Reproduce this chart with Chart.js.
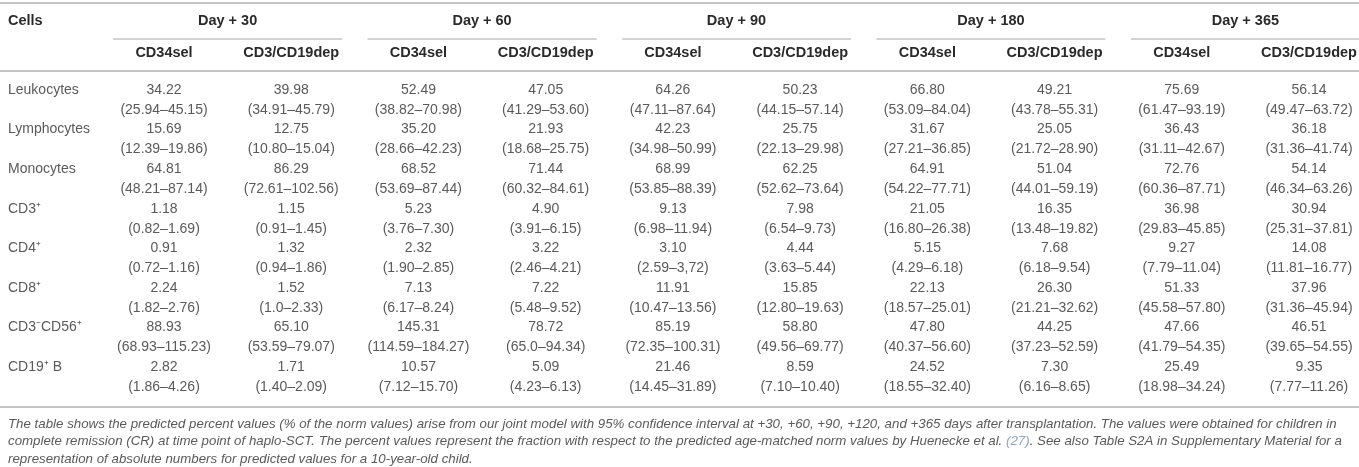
<!DOCTYPE html>
<html>
<head>
<meta charset="utf-8">
<script src="https://cdn.jsdelivr.net/npm/chart.js@4"></script>
<style>
  html, body { margin: 0; padding: 0; background: #fff; }
  #wrap { width: 1359px; height: 467px; }
</style>
</head>
<body>
<div id="wrap"><canvas id="table"></canvas></div>
<script>
// rows (cells) and columns
const cells = ['Leukocytes', 'Lymphocytes', 'Monocytes', 'CD3\u207A', 'CD4\u207A', 'CD8\u207A', 'CD3\u207BCD56\u207A', 'CD19\u207A B']
const days = ['Day + 30', 'Day + 60', 'Day + 90', 'Day + 180', 'Day + 365']
const groups = ['CD34sel', 'CD3/CD19dep']

// predicted values, one array per cell type, columns in order day30 sel/dep, day60 sel/dep ...
const leukocytes = [34.22, 39.98, 52.49, 47.05, 64.26, 50.23, 66.80, 49.21, 75.69, 56.14]
const leukocytesCI = ['25.94–45.15', '34.91–45.79', '38.82–70.98', '41.29–53.60', '47.11–87.64', '44.15–57.14', '53.09–84.04', '43.78–55.31', '61.47–93.19', '49.47–63.72']
const lymphocytes = [15.69, 12.75, 35.20, 21.93, 42.23, 25.75, 31.67, 25.05, 36.43, 36.18]
const lymphocytesCI = ['12.39–19.86', '10.80–15.04', '28.66–42.23', '18.68–25.75', '34.98–50.99', '22.13–29.98', '27.21–36.85', '21.72–28.90', '31.11–42.67', '31.36–41.74']
const monocytes = [64.81, 86.29, 68.52, 71.44, 68.99, 62.25, 64.91, 51.04, 72.76, 54.14]
const monocytesCI = ['48.21–87.14', '72.61–102.56', '53.69–87.44', '60.32–84.61', '53.85–88.39', '52.62–73.64', '54.22–77.71', '44.01–59.19', '60.36–87.71', '46.34–63.26']
const cd3 = [1.18, 1.15, 5.23, 4.90, 9.13, 7.98, 21.05, 16.35, 36.98, 30.94]
const cd3CI = ['0.82–1.69', '0.91–1.45', '3.76–7.30', '3.91–6.15', '6.98–11.94', '6.54–9.73', '16.80–26.38', '13.48–19.82', '29.83–45.85', '25.31–37.81']
const cd4 = [0.91, 1.32, 2.32, 3.22, 3.10, 4.44, 5.15, 7.68, 9.27, 14.08]
const cd4CI = ['0.72–1.16', '0.94–1.86', '1.90–2.85', '2.46–4.21', '2.59–3,72', '3.63–5.44', '4.29–6.18', '6.18–9.54', '7.79–11.04', '11.81–16.77']
const cd8 = [2.24, 1.52, 7.13, 7.22, 11.91, 15.85, 22.13, 26.30, 51.33, 37.96]
const cd8CI = ['1.82–2.76', '1.0–2.33', '6.17–8.24', '5.48–9.52', '10.47–13.56', '12.80–19.63', '18.57–25.01', '21.21–32.62', '45.58–57.80', '31.36–45.94']
const nk = [88.93, 65.10, 145.31, 78.72, 85.19, 58.80, 47.80, 44.25, 47.66, 46.51]
const nkCI = ['68.93–115.23', '53.59–79.07', '114.59–184.27', '65.0–94.34', '72.35–100.31', '49.56–69.77', '40.37–56.60', '37.23–52.59', '41.79–54.35', '39.65–54.55']
const cd19 = [2.82, 1.71, 10.57, 5.09, 21.46, 8.59, 24.52, 7.30, 25.49, 9.35]
const cd19CI = ['1.86–4.26', '1.40–2.09', '7.12–15.70', '4.23–6.13', '14.45–31.89', '7.10–10.40', '18.55–32.40', '6.16–8.65', '18.98–34.24', '7.77–11.26']

const caption = [
    ['The table shows the predicted percent values (% of the norm values) arise from our joint model with 95% confidence interval at +30, +60, +90, +120, and +365 days after transplantation. The values were obtained for children in'],
    ['complete remission (CR) at time point of haplo-SCT. The percent values represent the fraction with respect to the predicted age-matched norm values by Huenecke et al. ', '(27)', '. See also Table S2A in Supplementary Material for a'],
    ['representation of absolute numbers for predicted values for a 10-year-old child.'],
]

const values = [leukocytes, lymphocytes, monocytes, cd3, cd4, cd8, nk, cd19]
const intervals = [leukocytesCI, lymphocytesCI, monocytesCI, cd3CI, cd4CI, cd8CI, nkCI, cd19CI]
const columns = days.flatMap(d => groups.map(g => d + ' ' + g))

const FONT = '"Liberation Sans", Arial, sans-serif'
const TEXT = '#5a5a5a'
const HEAD = '#2a2a2a'
const RULE = '#c4c4c4'

const tablePlugin = {
    id: 'tableText',
    afterDatasetsDraw(chart) {
        const { ctx, chartArea, scales: { x, y } } = chart
        const W = chart.width
        const colW = x.getPixelForValue(1) - x.getPixelForValue(0)
        const top = chartArea.top

        ctx.save()
        const rule = (x0, x1, yy, w) => {
            ctx.strokeStyle = RULE
            ctx.lineWidth = w
            ctx.beginPath()
            ctx.moveTo(x0, yy)
            ctx.lineTo(x1, yy)
            ctx.stroke()
        }
        rule(0, W, top - 77, 2)
        rule(0, W, top - 9, 2)
        rule(0, W, chartArea.bottom + 10, 2)

        // header
        ctx.textBaseline = 'middle'
        ctx.fillStyle = HEAD
        ctx.font = 'bold 14.5px ' + FONT
        ctx.textAlign = 'left'
        ctx.fillText('Cells', 8, top - 59)
        ctx.textAlign = 'center'
        days.forEach((d, k) => {
            const a = x.getPixelForValue(2 * k)
            const b = x.getPixelForValue(2 * k + 1)
            ctx.fillStyle = HEAD
            ctx.fillText(d, (a + b) / 2, top - 59)
            rule(a - colW * 0.4, b + colW * 0.4, top - 41, 1.5)
            groups.forEach((g, n) => {
                ctx.fillStyle = HEAD
                ctx.fillText(g, x.getPixelForValue(2 * k + n), top - 27)
            })
        })

        // row labels
        ctx.font = '14px ' + FONT
        ctx.fillStyle = TEXT
        ctx.textAlign = 'left'
        cells.forEach((c, i) => {
            ctx.fillText(c, 8, y.getPixelForValue(i) - 10)
        })

        // cells from the dataset elements
        ctx.textAlign = 'center'
        chart.data.datasets.forEach((ds, j) => {
            chart.getDatasetMeta(j).data.forEach((pt, i) => {
                ctx.fillText(values[i][j].toFixed(2), pt.x, pt.y - 10)
                ctx.fillText('(' + intervals[i][j] + ')', pt.x, pt.y + 10)
            })
        })

        // caption
        ctx.font = 'italic 13.3px ' + FONT
        ctx.textAlign = 'left'
        caption.forEach((parts, l) => {
            let cx = 8
            parts.forEach(p => {
                ctx.fillStyle = p === '(27)' ? '#8fa6c0' : TEXT
                ctx.fillText(p, cx, chartArea.bottom + 27 + l * 17.5)
                cx += ctx.measureText(p).width
            })
        })
        ctx.restore()
    }
}

const datasets = columns.map((col, j) => ({
    label: col,
    data: cells.map(c => ({ x: col, y: c })),
    pointRadius: 0,
    showLine: false,
}))

new Chart(document.getElementById('table'), {
    type: 'scatter',
    data: { datasets },
    options: {
        responsive: true,
        maintainAspectRatio: false,
        animation: false,
        events: [],
        layout: { padding: { left: 164, right: 50, top: 80, bottom: 70 } },
        plugins: { legend: false, tooltip: { enabled: false } },
        scales: {
            x: { type: 'category', labels: columns, offset: false, display: false },
            y: { type: 'category', labels: cells, offset: true, display: false },
        },
    },
    plugins: [tablePlugin],
})
</script>
</body>
</html>
